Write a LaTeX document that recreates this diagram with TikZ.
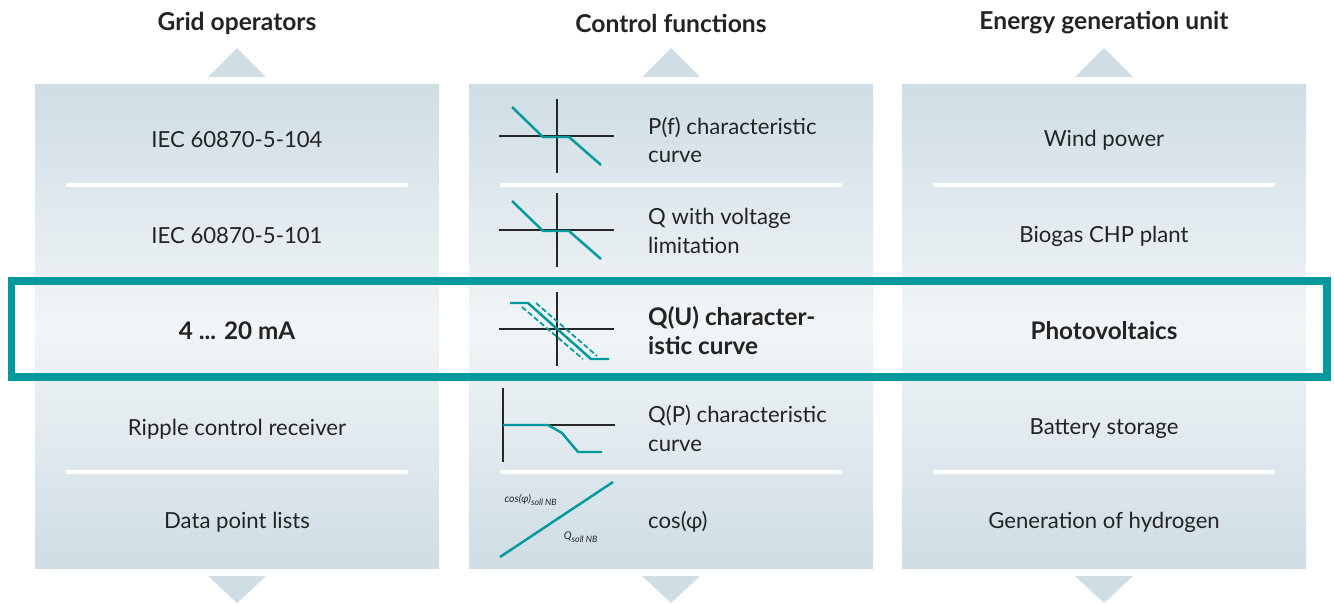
\documentclass[tikz,border=0pt]{standalone}
\usepackage{fontspec}
\setmainfont{Lato}
\usetikzlibrary{calc}

\definecolor{panelTop}{RGB}{207,221,229}
\definecolor{panelMid}{RGB}{241,245,247}
\definecolor{tealLine}{RGB}{0,154,158}
\definecolor{textGray}{RGB}{35,35,35}

\begin{document}
\begin{tikzpicture}[x=0.02cm,y=-0.02cm,
    rowtext/.style={font=\fontsize{12.6}{16.5}\selectfont,text=textGray,align=center},
    boldtext/.style={font=\bfseries\fontsize{13.8}{16.5}\selectfont},
    ctrltext/.style={font=\fontsize{12.6}{16.5}\selectfont,text=textGray,align=left,anchor=west},
    headtext/.style={font=\bfseries\fontsize{14}{16}\selectfont,text=textGray},
    axis/.style={line width=0.8pt,black!85},
    charline/.style={line width=1.4pt,tealLine},
    sepline/.style={line width=1.8pt,white}]

    \useasboundingbox (0,0) rectangle (1334,603);

    % Panels, arrows and headings
    \foreach \cx/\i/\title in {237/1/Grid operators,671/2/Control functions,1104/3/Energy generation unit}{
        \shade[top color=panelTop,bottom color=panelMid] (\cx-202,84) rectangle (\cx+202,327);
        \shade[top color=panelMid,bottom color=panelTop] (\cx-202,326) rectangle (\cx+202,568);
        \fill[panelTop] (\cx-29,77) -- (\cx,48) -- (\cx+29,77) -- cycle;
        \fill[panelTop] (\cx-29,576) -- (\cx,603) -- (\cx+29,576) -- cycle;
        \node[headtext] (head\i) at (\cx,23) {\title};
        \draw[sepline] (\cx-171,185) -- (\cx+171,185);
        \draw[sepline] (\cx-171,472) -- (\cx+171,472);
    }

    % Grid operators
    \node[rowtext] (grid1) at (237,140) {IEC 60870-5-104};
    \node[rowtext] (grid2) at (237,236) {IEC 60870-5-101};
    \node[rowtext,boldtext] (grid3) at (237,331) {4 ... 20 mA};
    \node[rowtext] (grid4) at (237,429) {Ripple control receiver};
    \node[rowtext] (grid5) at (237,522) {Data point lists};

    % Energy generation unit
    \node[rowtext] (unit1) at (1104,140) {Wind power};
    \node[rowtext] (unit2) at (1104,236) {Biogas CHP plant};
    \node[rowtext,boldtext] (unit3) at (1104,331) {Photovoltaics};
    \node[rowtext] (unit4) at (1104,429) {Battery storage};
    \node[rowtext] (unit5) at (1104,522) {Generation of hydrogen};

    % Control functions
    \node[ctrltext] (ctrl1) at (642,140) {P(f) characteristic\\curve};
    \node[ctrltext] (ctrl2) at (642,231) {Q with voltage\\limitation};
    \node[ctrltext,boldtext] (ctrl3) at (642,331) {Q(U) character-\\istic curve};
    \node[ctrltext] (ctrl4) at (642,428) {Q(P) characteristic\\curve};
    \node[ctrltext] (ctrl5) at (642,522) {cos(φ)};

    % P(f) and Q with voltage limitation
    \foreach \dy in {0,94}{
        \draw[axis] (499,136+\dy) -- (614,136+\dy);
        \draw[axis] (557,99+\dy) -- (557,173+\dy);
        \draw[charline] (512,107+\dy) -- (543,137+\dy) -- (569,137+\dy) -- (601,165+\dy);
    }

    % Q(U) with tolerance band
    \draw[axis] (499,329) -- (614,329);
    \draw[axis] (557,292) -- (557,366);
    \draw[charline] (510,303) -- (528,303) -- (591,359) -- (609,359);
    \draw[charline,line width=1pt,dashed,dash pattern=on 3pt off 1.5pt] (536,303) -- (597,356);
    \draw[charline,line width=1pt,dashed,dash pattern=on 3pt off 1.5pt] (522,307) -- (583,359);

    % Q(P)
    \draw[axis] (503,388) -- (503,462);
    \draw[axis] (503,425) -- (615,425);
    \draw[charline] (503,425) -- (548,425) -- (562,433) -- (578,452) -- (602,452);

    % cos(phi)
    \draw[charline] (500,557) -- (613,482);
    \node[font=\itshape\fontsize{6}{7}\selectfont,text=textGray] (cosLbl) at (531,500) {cos(φ)\textsubscript{soll NB}};
    \node[font=\itshape\fontsize{6}{7}\selectfont,text=textGray] (qLbl) at (581,537) {Q\textsubscript{soll NB}};

    % Highlighted row
    \draw[tealLine,line width=4.5pt] (11.5,281) rectangle (1327,377);

\end{tikzpicture}
\end{document}
